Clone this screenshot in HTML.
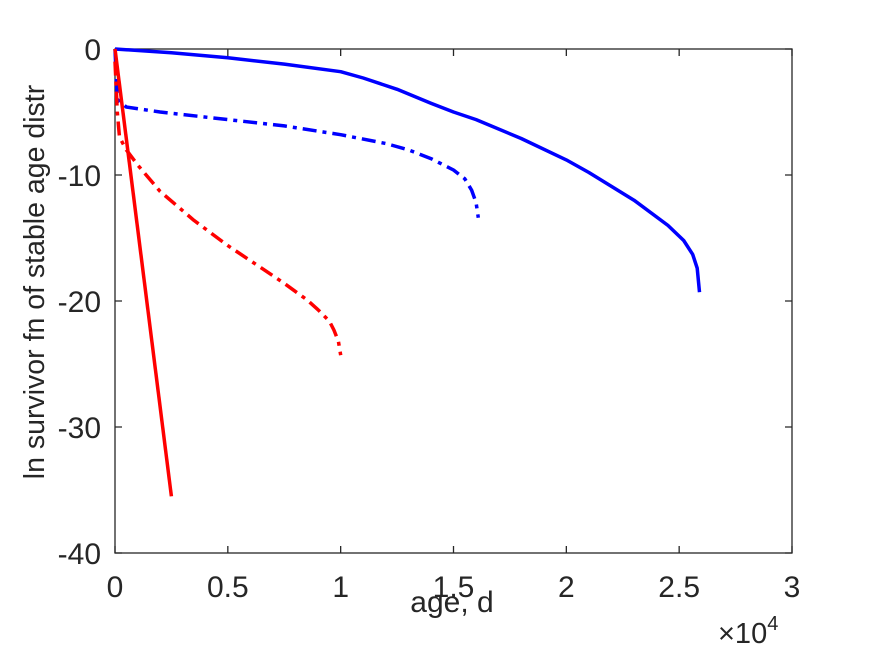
<!DOCTYPE html>
<html><head><meta charset="utf-8"><style>body{margin:0;background:#fff}svg{display:block;font-family:"Liberation Sans",sans-serif}</style></head>
<body>
<svg id="chart" width="875" height="656" viewBox="0 0 875 656" xmlns="http://www.w3.org/2000/svg">
<rect width="875" height="656" fill="#fff"/>
<g id="axes"></g>
<g id="series"></g>
<text x="452" y="612" font-size="30" text-anchor="middle" fill="#262626">age, d</text>
<text x="718" y="643" font-size="29" fill="#262626">×10<tspan font-size="20" dy="-13">4</tspan></text>
<text transform="translate(44,282) rotate(-90)" font-size="28.5" text-anchor="middle" fill="#262626">ln survivor fn of stable age distr</text>
</svg>
<script>
const xTicks=[0,0.5,1,1.5,2,2.5,3];
const xTickLabels=["0","0.5","1","1.5","2","2.5","3"];
const yTicks=[0,-10,-20,-30,-40];
const yTickLabels=["0","-10","-20","-30","-40"];
const blueSolidX=[0,0.25,0.5,0.75,1,1.1,1.25,1.4,1.5,1.6,1.8,2,2.1,2.3,2.45,2.52,2.56,2.58,2.59];
const blueSolidY=[0,-0.3,-0.7,-1.2,-1.8,-2.3,-3.2,-4.3,-5,-5.6,-7.1,-8.8,-9.8,-12,-14,-15.2,-16.3,-17.4,-19.3];
const blueDashX=[0,0.005,0.01,0.05,0.2,0.5,0.75,1,1.2,1.3,1.4,1.5,1.55,1.58,1.6,1.61];
const blueDashY=[0,-2,-4,-4.6,-5,-5.6,-6.1,-6.8,-7.5,-8,-8.7,-9.6,-10.3,-11.2,-12.2,-13.4];
const redSolidX=[0,0.25];
const redSolidY=[0,-35.5];
const redDashX=[0,0.01,0.02,0.05,0.1,0.2,0.35,0.5,0.65,0.75,0.85,0.9,0.95,0.97,0.99,1.0];
const redDashY=[-1,-5,-7,-8,-9.2,-11.3,-13.6,-15.6,-17.4,-18.6,-19.9,-20.7,-21.6,-22.3,-23.2,-24.3];
const X0=115,X1=792,Y0=49,Y1=553;
const sx=v=>X0+(v-0)/3*(X1-X0);
const sy=v=>Y0+(0-v)/40*(Y1-Y0);
const NS="http://www.w3.org/2000/svg";
const ax=document.getElementById('axes');
function mk(tag,attrs,parent){const e=document.createElementNS(NS,tag);for(const k in attrs)e.setAttribute(k,attrs[k]);parent.appendChild(e);return e;}
const box=mk('rect',{x:X0,y:Y0,width:X1-X0,height:Y1-Y0,fill:'none',stroke:'#262626','stroke-width':1.3},ax);


xTicks.forEach((t,i)=>{
 const x=sx(t);
 const tk=mk('path',{d:`M${x},${Y1}V${Y1-7}M${x},${Y0}V${Y0+7}`,stroke:'#262626','stroke-width':1.3},ax);
 
 
 const l=mk('text',{x:x,y:Y1+44,'font-size':30,'text-anchor':'middle',fill:'#262626'},ax);
 l.textContent=xTickLabels[i];
 
 
});
yTicks.forEach((t,i)=>{
 const y=sy(t);
 const tk=mk('path',{d:`M${X0},${y}H${X0+7}M${X1},${y}H${X1-7}`,stroke:'#262626','stroke-width':1.3},ax);
 
 
 const l=mk('text',{x:X0-14,y:y+11,'font-size':30,'text-anchor':'end',fill:'#262626'},ax);
 l.textContent=yTickLabels[i];
 
 
});
const sg=document.getElementById('series');
function line(xs,ys,color,dash,name){
 const d=xs.map((v,i)=>(i?'L':'M')+sx(v).toFixed(1)+','+sy(ys[i]).toFixed(1)).join('');
 const p=mk('path',{d:d,fill:'none',stroke:color,'stroke-width':3.5,'stroke-linejoin':'round'},sg);
 if(dash)p.setAttribute('stroke-dasharray',dash);
 
 
}
line(blueSolidX,blueSolidY,'#0000ff',null,'blue-solid-line');
line(blueDashX,blueDashY,'#0000ff','14,6,4,6','blue-dashdot-line');
line(redSolidX,redSolidY,'#ff0000',null,'red-solid-line');
line(redDashX,redDashY,'#ff0000','14,6,4,6','red-dashdot-line');
</script>
</body></html>
